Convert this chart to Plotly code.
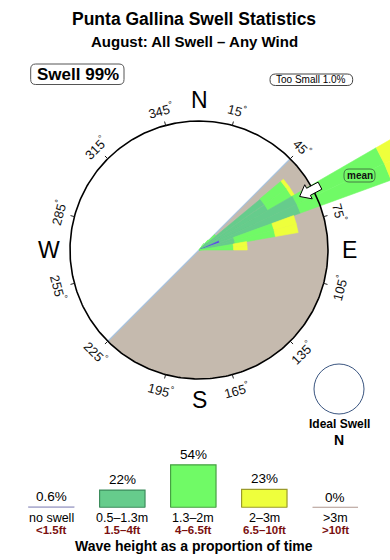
import numpy as np
import plotly.graph_objects as go

# ---------------- data ----------------
TITLE = "Punta Gallina Swell Statistics"
SUBTITLE = "August: All Swell – Any Wind"
SWELL_TEXT = "Swell 99%"
TOO_SMALL_TEXT = "Too Small 1.0%"

# rose: 5-degree direction bins (centre, deg true), stacked % per wave-height class
DIR_CENTRES = [37.5, 42.5, 47.5, 52.5, 57.5, 62.5, 67.5, 72.5, 77.5, 82.5, 87.5]
NO_SWELL = [0, 0, 0, 0, 0, 0, 2.1, 0, 0, 0, 0]
H_05_13 = [0, 0, 1.0, 7.6, 7.6, 10.3, 8.2, 3.5, 3.5, 0, 0]
H_13_20 = [0.8, 1.3, 1.1, 2.6, 2.6, 9.2, 9.2, 3.9, 3.9, 3.3, 3.3]
H_20_30 = [0, 0, 0, 0.3, 0.3, 3.4, 3.4, 2.2, 2.2, 1.3, 1.3]
H_GT_3 = [0, 0, 0, 0, 0, 0, 0, 0, 0, 0, 0]
BIN_WIDTH = 5
MEAN_DIR = 62
RING_PCT = 12.3
LAND_FROM, LAND_TO = 45, 225
TICK_DIRS = [15, 45, 75, 105, 135, 165, 195, 225, 255, 285, 315, 345]
CARDINALS = ["N", "E", "S", "W"]
CARDINAL_DIRS = [0, 90, 180, 270]

LEG_PCT = [0.6, 22, 54, 23, 0]
LEG_PCT_LABELS = ["0.6%", "22%", "54%", "23%", "0%"]
LEG_M = ["no swell", "0.5–1.3m", "1.3–2m", "2–3m", ">3m"]
LEG_FT = ["<1.5ft", "1.5–4ft", "4–6.5ft", "6.5–10ft", ">10ft"]
LEGEND_TITLE = "Wave height as a proportion of time"

# ---------------- styles ----------------
FONT = "Liberation Sans, Arial, Helvetica, sans-serif"
CLASS_FILL = ["#5544ee", "#66cc8c", "#70fa66", "#eeff3c", "#b09890"]
LEG_FILL = ["#a0a0c8", "#66cc8c", "#70fa66", "#eeff3c", "#b09890"]
CLASS_EDGE = ["#a0a0c8", "#3d8c5c", "#47a043", "#9a9a2a", "#b09890"]
LAND = "#c5baae"
W, H = 390, 560
CX, CY = 199, 250          # rose centre in px
RING_PX = 129
K = RING_PX / RING_PCT     # px per %


def P(xpx, ypx):
    return (xpx - CX) / K, (CY - ypx) / K


def polar_xy(r, deg):
    t = np.radians(deg)
    return r * np.sin(t), r * np.cos(t)


def sector(r0, r1, a0, a1, n=16):
    th = np.linspace(a0, a1, n)
    xo, yo = polar_xy(r1, th)
    if r0 <= 0:
        xs = np.concatenate([[0], xo, [0]])
        ys = np.concatenate([[0], yo, [0]])
    else:
        xi, yi = polar_xy(r0, th[::-1])
        xs = np.concatenate([xo, xi, xo[:1]])
        ys = np.concatenate([yo, yi, yo[:1]])
    return xs, ys


def rbox_path(x0, y0, x1, y1, r):
    pts = [("M", [(x0 + r, y0)]), ("L", [(x1 - r, y0)]), ("Q", [(x1, y0), (x1, y0 + r)]),
           ("L", [(x1, y1 - r)]), ("Q", [(x1, y1), (x1 - r, y1)]), ("L", [(x0 + r, y1)]),
           ("Q", [(x0, y1), (x0, y1 - r)]), ("L", [(x0, y0 + r)]), ("Q", [(x0, y0), (x0 + r, y0)])]
    s = ""
    for cmd, pp in pts:
        s += cmd + " ".join("%.4f,%.4f" % P(px, py) for px, py in pp) + " "
    return s + "Z"


fig = go.Figure()

# land half-disc
th = np.linspace(LAND_FROM, LAND_TO, 120)
lx, ly = polar_xy(RING_PCT, th)
fig.add_trace(go.Scatter(x=np.concatenate([[0], lx, [0]]), y=np.concatenate([[0], ly, [0]]),
                         fill="toself", fillcolor=LAND, line=dict(width=0), mode="lines",
                         hoverinfo="skip"))
bx, by = polar_xy(np.array([RING_PCT, RING_PCT]), np.array([LAND_FROM, LAND_TO]))
fig.add_trace(go.Scatter(x=bx, y=by, mode="lines", line=dict(color="#a8c4e0", width=1.2),
                         hoverinfo="skip"))

# stacked wedges
classes = [NO_SWELL, H_05_13, H_13_20, H_20_30, H_GT_3]
for i, c in enumerate(DIR_CENTRES):
    base = 0.0
    for k, series in enumerate(classes):
        v = series[i]
        if v <= 0:
            continue
        xs, ys = sector(base, base + v, c - BIN_WIDTH / 2, c + BIN_WIDTH / 2)
        fig.add_trace(go.Scatter(x=xs, y=ys, fill="toself", fillcolor=CLASS_FILL[k],
                                 line=dict(color=CLASS_FILL[k], width=0.6), mode="lines",
                                 hoverinfo="skip"))
        base += v

# ring
th = np.linspace(0, 360, 361)
rx, ry = polar_xy(RING_PCT, th)
fig.add_trace(go.Scatter(x=rx, y=ry, mode="lines", line=dict(color="black", width=1.6),
                         hoverinfo="skip"))

# ticks
tx, ty = [], []
for b in TICK_DIRS:
    x0, y0 = polar_xy(RING_PCT, b)
    x1, y1 = polar_xy(RING_PCT + 4 / K, b)
    tx += [x0, x1, None]
    ty += [y0, y1, None]
fig.add_trace(go.Scatter(x=tx, y=ty, mode="lines", line=dict(color="#222", width=1),
                         hoverinfo="skip"))

# mean arrow (pointing inward)
u_pts = [-11, -1, -1, 12, 12, -1, -1]
v_pts = [0, 8, 4, 4, -4, -4, -8]
r_mid = 125 / K
t = np.radians(MEAN_DIR)
ur = np.array([np.sin(t), np.cos(t)])
vr = np.array([np.cos(t), -np.sin(t)])
ax = [r_mid * ur[0] + (u * ur[0] + v * vr[0]) / K for u, v in zip(u_pts, v_pts)]
ay = [r_mid * ur[1] + (u * ur[1] + v * vr[1]) / K for u, v in zip(u_pts, v_pts)]
ax.append(ax[0]); ay.append(ay[0])
fig.add_trace(go.Scatter(x=ax, y=ay, fill="toself", fillcolor="white", mode="lines",
                         line=dict(color="black", width=1), hoverinfo="skip"))

ann = []
shapes = []

# tick labels
for b in TICK_DIRS:
    x, y = polar_xy(145 / K, b)
    ang = ((b + 90) % 180) - 90
    ann.append(dict(x=x, y=y, xref="x", yref="y", text=f"{b}<sup>°</sup>", showarrow=False,
                    textangle=ang, font=dict(family=FONT, size=13, color="#111"),
                    xanchor="center", yanchor="middle"))
# cardinals
for lab, b in zip(CARDINALS, CARDINAL_DIRS):
    x, y = polar_xy(150 / K, b)
    ann.append(dict(x=x, y=y, xref="x", yref="y", text=lab, showarrow=False,
                    font=dict(family=FONT, size=23, color="black"),
                    xanchor="center", yanchor="middle"))

# mean label box
shapes.append(dict(type="path", path=rbox_path(344, 169, 375, 182, 5), xref="x", yref="y",
                   line=dict(color="#3a5a3a", width=0.8), fillcolor="rgba(0,0,0,0)"))
x, y = P(359.5, 175.8)
ann.append(dict(x=x, y=y, xref="x", yref="y", text="<b>mean</b>", showarrow=False,
                font=dict(family=FONT, size=10, color="#111"),
                xanchor="center", yanchor="middle"))


def txt(xpx, ypx, text, size, color="black"):
    x, y = P(xpx, ypx)
    ann.append(dict(x=x, y=y, xref="x", yref="y", text=text, showarrow=False,
                    xanchor="center", yanchor="middle",
                    font=dict(family=FONT, size=size, color=color)))


# titles
txt(194, 19, f"<b>{TITLE}</b>", 17.5)
txt(194, 41.5, f"<b>{SUBTITLE}</b>", 15)

# swell box
shapes.append(dict(type="path", path=rbox_path(30.7, 64, 124, 84.5, 5), xref="x", yref="y",
                   line=dict(color="#555", width=1), fillcolor="rgba(0,0,0,0)"))
txt(77.5, 74.5, f"<b>{SWELL_TEXT}</b>", 17)
shapes.append(dict(type="path", path=rbox_path(270, 74, 352.7, 85.5, 5.5), xref="x", yref="y",
                   line=dict(color="#444", width=1), fillcolor="rgba(0,0,0,0)"))
txt(311.3, 79.8, TOO_SMALL_TEXT, 10)

# ideal swell
x0, y0 = P(314, 364)
x1, y1 = P(364, 414)
shapes.append(dict(type="circle", x0=x0, x1=x1, y0=y1, y1=y0, xref="x", yref="y",
                   line=dict(color="#3a5580", width=1)))
txt(339, 423.5, "<b>Ideal Swell</b>", 12)
txt(339, 439.5, "<b>N</b>", 14)

# ---------------- legend bars (second axes) ----------------
idx = list(range(len(LEG_PCT)))
BW = 0.64
for i in idx:
    fig.add_trace(go.Scatter(x=[i - BW / 2, i + BW / 2], y=[0, 0], mode="lines",
                             line=dict(color=CLASS_EDGE[i], width=1.6), xaxis="x2", yaxis="y2",
                             hoverinfo="skip"))
fig.add_trace(go.Bar(x=idx, y=LEG_PCT, width=BW, xaxis="x2", yaxis="y2",
                     marker=dict(color=LEG_FILL, line=dict(color=CLASS_EDGE, width=1.2)),
                     hoverinfo="skip"))
for i in idx:
    ann.append(dict(x=i, y=LEG_PCT[i], xref="x2", yref="y2", text=LEG_PCT_LABELS[i],
                    showarrow=False, xanchor="center", yanchor="bottom", yshift=1,
                    font=dict(family=FONT, size=13.5, color="black")))
    ann.append(dict(x=i, y=(H - 517.5) / H, xref="x2", yref="paper", text=LEG_M[i],
                    showarrow=False, xanchor="center", yanchor="middle",
                    font=dict(family=FONT, size=12.5, color="black")))
    ann.append(dict(x=i, y=(H - 530) / H, xref="x2", yref="paper", text=f"<b>{LEG_FT[i]}</b>",
                    showarrow=False, xanchor="center", yanchor="middle",
                    font=dict(family=FONT, size=11.5, color="#7a1010")))
txt(194, 546, f"<b>{LEGEND_TITLE}</b>", 14)

x_lo, y_lo = P(0, H)
x_hi, y_hi = P(W, 0)
c0 = 51.3
leg_dom = [(c0 - 35.5) / W, (c0 + 4 * 71 + 35.5) / W]
base_px = 507.5
fig.update_layout(
    width=W, height=H, margin=dict(l=0, r=0, t=0, b=0),
    paper_bgcolor="white", plot_bgcolor="rgba(0,0,0,0)", showlegend=False,
    xaxis=dict(range=[x_lo, x_hi], visible=False, domain=[0, 1]),
    yaxis=dict(range=[y_lo, y_hi], visible=False, domain=[0, 1]),
    xaxis2=dict(range=[-0.5, 4.5], visible=False, domain=leg_dom, anchor="y2"),
    yaxis2=dict(range=[0, 60], visible=False,
                domain=[(H - base_px) / H, (H - base_px + 60 * 0.79) / H], anchor="x2"),
    annotations=ann, shapes=shapes,
)
fig.write_html("out.html")
